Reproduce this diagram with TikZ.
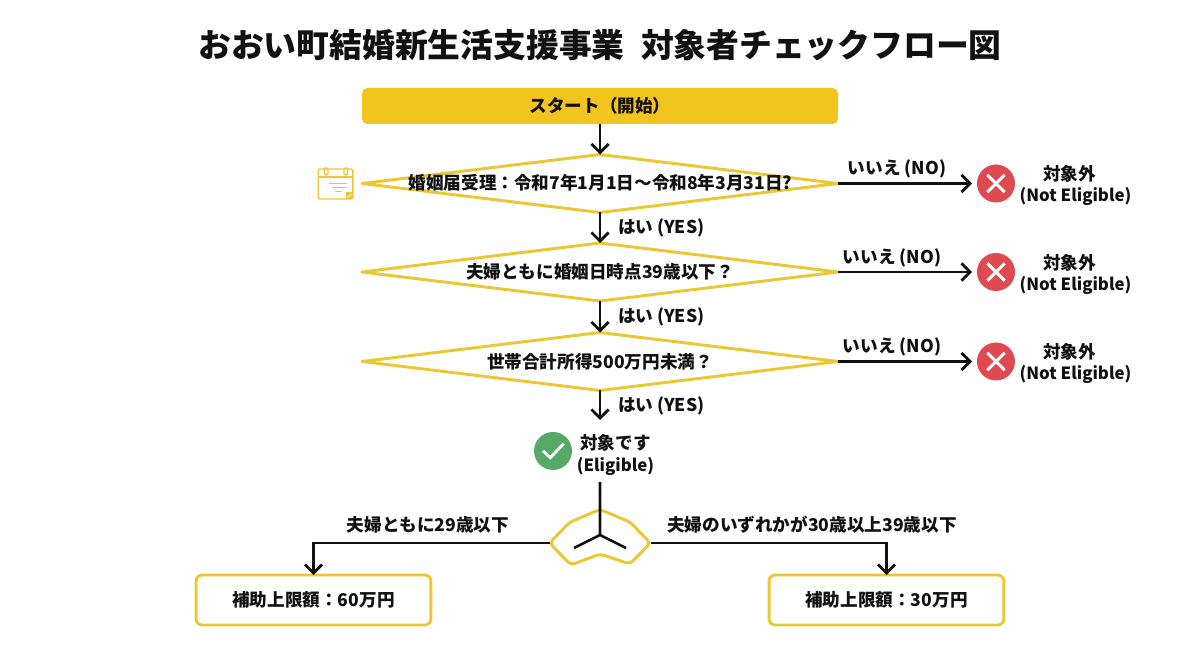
\documentclass[tikz,border=0pt]{standalone}
\usepackage{fontspec}
\setmainfont{Noto Sans CJK JP}
\usetikzlibrary{arrows.meta,shapes.geometric}
\definecolor{startyellow}{HTML}{F2C41F}
\definecolor{lineyellow}{HTML}{EBC733}
\definecolor{inkblack}{HTML}{111111}
\definecolor{nored}{HTML}{DE4A50}
\definecolor{yesgreen}{HTML}{57A968}
\newcommand{\latinsize}{\fontsize{12.6pt}{16.4pt}\selectfont}
\tikzset{
  every node/.style={align=center,text=inkblack,inner sep=0pt,outer sep=0pt},
  txt/.style={font=\fontsize{13.2pt}{16.4pt}\bfseries},
  flow/.style={draw=inkblack,line width=2pt,-{Straight Barb[length=6.5pt,width=13pt,line width=2pt]}},
  wire/.style={draw=inkblack,line width=2pt},
  dia/.style={diamond,draw=lineyellow,line width=2.2pt,line join=round,minimum width=357pt,minimum height=43.5pt},
  result/.style={rectangle,rounded corners=4.5pt,draw=lineyellow,line width=2.2pt,minimum width=176pt,minimum height=37.5pt,txt},
  nomark/.style={circle,fill=nored,minimum size=28.5pt,path picture={
    \draw[white,line width=2.2pt]
      ([shift={(-6.5pt,-6.5pt)}]path picture bounding box.center) -- ([shift={(6.5pt,6.5pt)}]path picture bounding box.center)
      ([shift={(-6.5pt,6.5pt)}]path picture bounding box.center) -- ([shift={(6.5pt,-6.5pt)}]path picture bounding box.center);}},
  yesmark/.style={circle,fill=yesgreen,minimum size=28.5pt,path picture={
    \draw[white,line width=2.2pt]
      ([shift={(-7.5pt,0pt)}]path picture bounding box.center) -- ([shift={(-2pt,-5pt)}]path picture bounding box.center) -- ([shift={(8pt,5.5pt)}]path picture bounding box.center);}},
}
\begin{document}
\begin{tikzpicture}[x=0.75pt,y=-0.75pt]
\useasboundingbox (0,0) rectangle (1200,655);

\node[font=\fontsize{24.6pt}{30pt}\bfseries] (title) at (600,45) {おおい町結婚新生活支援事業\hspace{0.5em}対象者チェックフロー図};

\node[rectangle,rounded corners=4pt,fill=startyellow,minimum width=357pt,minimum height=27pt,txt] (start) at (600,106) {\raisebox{-0.75pt}{スタート（開始）}};

% questions
\node[dia] (q1) at (600,183.5) {};
\node[dia] (q2) at (600,272) {};
\node[dia] (q3) at (600,361.5) {};
\node[txt] (q1t) at (600.5,183) {婚姻届受理：令和7年1月1日〜令和8年3月31日?};
\node[txt] (q2t) at (600,272) {夫婦ともに婚姻日時点39歳以下？};
\node[txt] (q3t) at (600,362) {世帯合計所得500万円未満？};

% not eligible
\node[nomark] (n1) at (996,183.5) {};
\node[nomark] (n2) at (996,272) {};
\node[nomark] (n3) at (996,361.5) {};
\node[txt] (n1t) at (1075.5,185.5) {対象外\hspace*{9pt}\\{\latinsize(Not Eligible)}};
\node[txt] (n2t) at (1075.5,274.5) {対象外\hspace*{9pt}\\{\latinsize(Not Eligible)}};
\node[txt] (n3t) at (1075.5,363.5) {対象外\hspace*{9pt}\\{\latinsize(Not Eligible)}};

% eligible
\node[yesmark] (ok) at (553,451) {};
\node[txt] (okt) at (615.5,455) {対象です\\{\latinsize(Eligible)}};

\draw[flow] (start) -- (q1);
\draw[flow] (q1) -- (q2) node[txt,midway,anchor=west,xshift=13.5pt] (y1) {はい (YES)};
\draw[flow] (q2) -- (q3) node[txt,midway,anchor=west,xshift=13.5pt] (y2) {はい (YES)};
\coordinate (q3end) at (600,420);
\draw[flow] (q3) -- (q3end) node[txt,midway,anchor=west,xshift=13.5pt,yshift=-0.5pt] (y3) {はい (YES)};

\draw[flow] (q1.east) -- ([xshift=-18pt]n1.center);
\draw[flow] (q2.east) -- ([xshift=-18pt]n2.center);
\draw[flow] (q3.east) -- ([xshift=-18pt]n3.center);
\node[txt] (no1) at (897,169) {いいえ (NO)};
\node[txt] (no2) at (892,258) {いいえ (NO)};
\node[txt] (no3) at (892,347) {いいえ (NO)};

% split
\coordinate (bl) at (549.5,543);
\coordinate (br) at (650.5,543);
\coordinate (yc) at (600,535);
\coordinate (ytop) at (600,482);
\draw[lineyellow,line width=2.2pt,rounded corners=3pt]
  (bl) -- (570,522) -- (600,509.5) -- (630,522) -- (br) -- (630,564) -- (600,554) -- (571,565) -- cycle;
\draw[wire] (ytop) -- (yc) (574,548) -- (yc) -- (626,548);

% amounts
\node[result] (a60) at (313.5,600) {\raisebox{-0.75pt}{補助上限額：60万円}};
\node[result] (a30) at (886.5,600) {\raisebox{-0.75pt}{補助上限額：30万円}};
\draw[flow] (bl) -| (a60.north);
\draw[flow] (br) -| (a30.north);
\node[txt] (l60) at (428,525) {夫婦ともに29歳以下};
\node[txt] (l30) at (812,525) {夫婦のいずれかが30歳以上39歳以下};

% calendar
\node[rectangle,rounded corners=1.5pt,draw=lineyellow,line width=1pt,minimum width=26pt,minimum height=22.5pt] (cal) at (335.5,184) {};
\draw[lineyellow,line width=1pt] (cal.west |- 0,177) -- (cal.east |- 0,177);
\draw[lineyellow,line width=1pt,fill=white,rounded corners=1pt] (324.5,168) rectangle (328,175);
\draw[lineyellow,line width=1pt,fill=white,rounded corners=1pt] (344,168) rectangle (347.5,175);
\draw[lineyellow,line width=0.7pt] (329,183) -- (347,183) (332,187) -- (347,187) (335,191) -- (342,191);
\fill[lineyellow] (346,192.5) rectangle (353,199);
\draw[white,line width=0.6pt] (347.5,197.5) -- (351.5,194);
\end{tikzpicture}
\end{document}
